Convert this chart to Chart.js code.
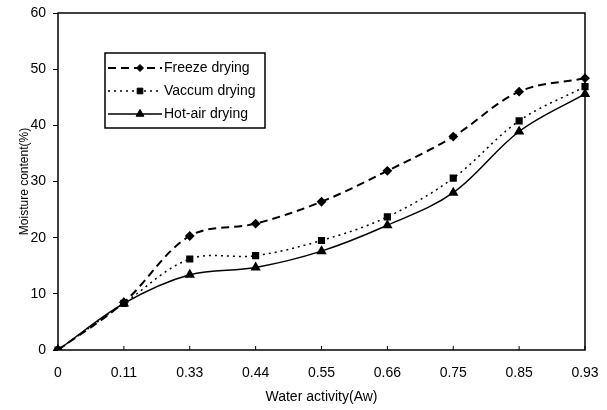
<!DOCTYPE html>
<html>
<head>
<meta charset="utf-8">
<script src="https://cdn.jsdelivr.net/npm/chart.js@4"></script>
<style>
  html, body { margin: 0; padding: 0; background: #fff; }
  #wrap { width: 607px; height: 410px; }
</style>
</head>
<body>
<div id="wrap"><canvas id="chart"></canvas></div>
<script>
const waterActivity = ["0", "0.11", "0.33", "0.44", "0.55", "0.66", "0.75", "0.85", "0.93"];
const freezeDrying = [0, 8.5, 20.3, 22.5, 26.4, 31.9, 38.0, 46.0, 48.4];
const vaccumDrying = [0, 8.3, 16.2, 16.8, 19.5, 23.7, 30.6, 40.8, 46.9];
const hotAirDrying = [0, 8.3, 13.4, 14.7, 17.6, 22.2, 28.0, 38.9, 45.6];

const FONT = "'Liberation Sans', Arial, sans-serif";

// boxed legend in the upper left, like the original figure
const boxLegend = {
  id: "boxLegend",
  afterDraw(chart) {
    const ctx = chart.ctx;
    const x0 = 105, y0 = 53, w = 160, h = 75;
    ctx.save();
    ctx.fillStyle = "#fff";
    ctx.fillRect(x0, y0, w, h);
    ctx.strokeStyle = "#000";
    ctx.lineWidth = 1.5;
    ctx.setLineDash([]);
    ctx.strokeRect(x0, y0, w, h);
    const rows = [68, 91, 114];
    chart.data.datasets.forEach((ds, i) => {
      const y = rows[i];
      ctx.strokeStyle = "#000";
      ctx.lineWidth = ds.borderWidth;
      ctx.setLineDash(ds.borderDash || []);
      ctx.beginPath();
      ctx.moveTo(x0 + 3, y);
      ctx.lineTo(x0 + 57, y);
      ctx.stroke();
      ctx.setLineDash([]);
      ctx.fillStyle = "#000";
      ctx.lineWidth = 1;
      Chart.helpers.drawPoint(ctx, {
        pointStyle: ds.pointStyle,
        radius: ds.pointRadius,
        borderWidth: 1,
        rotation: 0
      }, x0 + 35, y);
      ctx.fillStyle = "#000";
      ctx.font = "14px " + FONT;
      ctx.textBaseline = "middle";
      ctx.fillText(ds.label, x0 + 59, y);
    });
    ctx.restore();
  }
};

// small inward tick marks on the x axis, and full frame
const frame = {
  id: "frame",
  afterDatasetsDraw(chart) {
    const { ctx, chartArea: a, scales } = chart;
    ctx.save();
    ctx.strokeStyle = "#000";
    ctx.lineWidth = 1.5;
    ctx.setLineDash([]);
    ctx.strokeRect(a.left, a.top, a.right - a.left, a.bottom - a.top);
    ctx.lineWidth = 1;
    scales.x.ticks.forEach((t, i) => {
      const x = scales.x.getPixelForTick(i);
      ctx.beginPath();
      ctx.moveTo(x, a.bottom);
      ctx.lineTo(x, a.bottom - 4);
      ctx.stroke();
    });
    ctx.restore();
  }
};

const chart = new Chart(document.getElementById("chart"), {
  type: "line",
  data: {
    labels: waterActivity,
    datasets: [
      {
        label: "Freeze drying",
        data: freezeDrying,
        borderColor: "#000",
        backgroundColor: "#000",
        borderWidth: 2,
        borderDash: [8, 5],
        pointStyle: "rectRot",
        pointRadius: 3.5,
        tension: 0.35
      },
      {
        label: "Vaccum drying",
        data: vaccumDrying,
        borderColor: "#000",
        backgroundColor: "#000",
        borderWidth: 1.5,
        borderDash: [2, 4],
        pointStyle: "rect",
        pointRadius: 4,
        tension: 0.35
      },
      {
        label: "Hot-air drying",
        data: hotAirDrying,
        borderColor: "#000",
        backgroundColor: "#000",
        borderWidth: 1.5,
        pointStyle: "triangle",
        pointRadius: 4.5,
        tension: 0.35
      }
    ]
  },
  options: {
    responsive: true,
    maintainAspectRatio: false,
    animation: false,
    layout: { padding: { top: 13, right: 22, left: 17, bottom: 0 } },
    plugins: {
      legend: { display: false },
      tooltip: { enabled: false }
    },
    scales: {
      x: {
        offset: false,
        grid: { display: false, drawTicks: false },
        border: { display: false },
        ticks: { color: "#000", font: { family: FONT, size: 14 }, padding: 15, maxRotation: 0 },
        title: { display: true, text: "Water activity(Aw)", color: "#000", font: { family: FONT, size: 14 }, padding: { top: 4 } },
        afterFit(s) { s.height = 60; s.paddingLeft = 0; s.paddingRight = 0; }
      },
      y: {
        min: 0,
        max: 60,
        grid: { drawOnChartArea: false, tickLength: 5, color: "#000" },
        border: { display: false },
        ticks: { stepSize: 10, color: "#000", font: { family: FONT, size: 14 }, padding: 7 },
        title: { display: true, text: "Moisture content(%)", color: "#000", font: { family: FONT, size: 12 }, padding: 0 },
        afterFit(s) { s.width = 41; s.paddingTop = 0; s.paddingBottom = 0; }
      }
    }
  },
  plugins: [frame, boxLegend]
});
</script>
</body>
</html>
